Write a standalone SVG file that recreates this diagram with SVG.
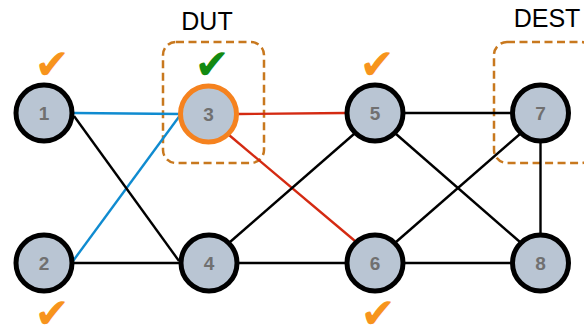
<svg xmlns="http://www.w3.org/2000/svg" width="584" height="328" viewBox="0 0 584 328">
  <style>
    .edge { fill: none; stroke-width: 2.4; }
    .k { stroke: #000; }
    .b { stroke: #0f8bd0; }
    .r { stroke: #d42a12; }
    .node circle { fill: #b9c5d3; stroke: #000; stroke-width: 5; }
    .node text { font-family: "Liberation Sans", Arial, sans-serif; font-weight: bold; font-size: 19px; fill: #707070; text-anchor: middle; }
    .zone { fill: none; stroke: #c8781e; stroke-width: 2.5; stroke-dasharray: 8 4.5; }
    .title { font-family: "Liberation Sans", Arial, sans-serif; font-size: 25px; fill: #000; text-anchor: middle; }
    .check { font-family: "DejaVu Sans", sans-serif; font-size: 42px; text-anchor: middle; }
  </style>
  <rect width="584" height="328" fill="#fff"/>

  <!-- dashed zones -->
  <g id="zones">
    <rect class="zone" x="163" y="42" width="101" height="121" rx="13"/>
    <rect class="zone" x="494" y="42" width="100" height="121" rx="13"/>
    <text class="title" x="207" y="30">DUT</text>
    <text class="title" x="547" y="27">DEST</text>
  </g>

  <!-- links -->
  <g id="connectors">
    <line class="edge b" x1="74" y1="113" x2="181" y2="114"/>
    <line class="edge b" x1="73" y1="261" x2="181" y2="114"/>
    <line class="edge k" x1="74" y1="116" x2="179" y2="261"/>
    <line class="edge k" x1="74" y1="263" x2="179" y2="263"/>
    <line class="edge r" x1="238" y1="114" x2="345" y2="113"/>
    <line class="edge r" x1="229" y1="135" x2="355" y2="241"/>
    <line class="edge k" x1="230" y1="242" x2="354" y2="134"/>
    <line class="edge k" x1="239" y1="263" x2="345" y2="263"/>
    <line class="edge k" x1="405" y1="113" x2="511" y2="113"/>
    <line class="edge k" x1="396" y1="134" x2="520" y2="242"/>
    <line class="edge k" x1="396" y1="242" x2="520" y2="134"/>
    <line class="edge k" x1="405" y1="263" x2="511" y2="263"/>
    <line class="edge k" x1="540.5" y1="143" x2="540.5" y2="233"/>
  </g>

  <!-- routers -->
  <g id="node-1" class="node"><circle cx="44" cy="113" r="28"/><text x="44" y="120">1</text></g>
  <g id="node-2" class="node"><circle cx="44" cy="263" r="28"/><text x="44" y="270">2</text></g>
  <g id="node-3" class="node"><circle cx="208.5" cy="114" r="28" style="stroke:#f5821f"/><text x="208.5" y="121">3</text></g>
  <g id="node-4" class="node"><circle cx="209" cy="263" r="28"/><text x="209" y="270">4</text></g>
  <g id="node-5" class="node"><circle cx="375" cy="113" r="28"/><text x="375" y="120">5</text></g>
  <g id="node-6" class="node"><circle cx="375" cy="263" r="28"/><text x="375" y="270">6</text></g>
  <g id="node-7" class="node"><circle cx="540.5" cy="113" r="28"/><text x="540.5" y="120">7</text></g>
  <g id="node-8" class="node"><circle cx="540.5" cy="263" r="28"/><text x="540.5" y="270">8</text></g>

  <!-- status marks -->
  <g id="marks">
    <text class="check" x="52" y="79" fill="#f7941d">✔</text>
    <text class="check" x="212" y="79" fill="#138a12">✔</text>
    <text class="check" x="377" y="79" fill="#f7941d">✔</text>
    <text class="check" x="52" y="328" fill="#f7941d">✔</text>
    <text class="check" x="378" y="328" fill="#f7941d">✔</text>
  </g>
</svg>
